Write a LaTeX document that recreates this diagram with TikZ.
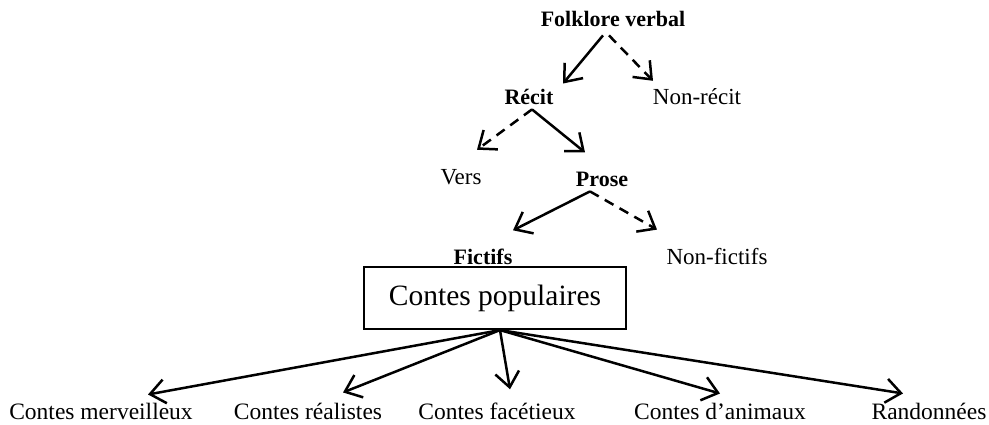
\documentclass[tikz,border=0pt]{standalone}
\usepackage{fontspec}
\setmainfont{Liberation Serif}
\usetikzlibrary{arrows.meta}
\tikzset{
  lab/.style={inner sep=0pt, anchor=base, font=\fontsize{23}{27}\selectfont},
  blab/.style={inner sep=0pt, anchor=base, font=\fontsize{22}{26}\selectfont\bfseries},
  botlab/.style={inner sep=0pt, anchor=base, font=\fontsize{23.5}{27}\selectfont},
  boxnode/.style={draw, line width=2.2pt, minimum width=262pt, minimum height=62pt, inner sep=0pt, font=\fontsize{29.5}{34}\selectfont},
  arr/.style={line width=2.5pt, -{Straight Barb[length=15pt, width=24pt, line width=2.5pt]}},
  darr/.style={arr, dash pattern=on 10pt off 7pt}
}
\begin{document}
\begin{tikzpicture}[x=1pt,y=-1pt]
\useasboundingbox (0,0) rectangle (989,425);
% nodes
\node[blab] (fv) at (613,27) {Folklore verbal};
\node[blab] (recit) at (529,105) {Récit};
\node[lab] (nonrecit) at (697,105) {Non-récit};
\node[lab] (vers) at (461,185) {Vers};
\node[blab] (prose) at (602,187) {Prose};
\node[blab] (fictifs) at (483,265) {Fictifs};
\node[lab] (nonfictifs) at (717,265) {Non-fictifs};
\node[boxnode] (cp) at (495,298) {Contes populaires};
\node[botlab] (cm) at (101,419) {Contes merveilleux};
\node[botlab] (cr) at (308,419) {Contes réalistes};
\node[botlab] (cf) at (497,419) {Contes facétieux};
\node[botlab] (ca) at (720,419) {Contes d’animaux};
\node[botlab] (ra) at (929,419) {Randonnées};
% connector end points, placed relative to the nodes
\coordinate (fvA) at ([xshift=-10pt,yshift=-8pt]fv.south);
\coordinate (fvB) at ([xshift=-4pt,yshift=-8pt]fv.south);
\coordinate (recitN) at ([xshift=34pt,yshift=6pt]recit.north);
\coordinate (nonrecitN) at ([xshift=-44pt,yshift=8pt]nonrecit.north);
\coordinate (recitS) at ([xshift=3pt,yshift=-4pt]recit.south);
\coordinate (versN) at ([xshift=16pt,yshift=20pt]vers.north);
\coordinate (proseN) at ([xshift=-17pt,yshift=20pt]prose.north);
\coordinate (proseS) at ([xshift=-12pt,yshift=-4pt]prose.south);
\coordinate (fictifsN) at ([xshift=30pt,yshift=19pt]fictifs.north);
\coordinate (nonfictifsN) at ([xshift=-60pt,yshift=19pt]nonfictifs.north);
\coordinate (cpS) at ([xshift=5pt]cp.south);
\coordinate (cmN) at ([xshift=47pt,yshift=8pt]cm.north);
\coordinate (crN) at ([xshift=35pt,yshift=10pt]cr.north);
\coordinate (cfN) at ([xshift=13pt,yshift=13pt]cf.north);
\coordinate (caN) at ([xshift=0pt,yshift=9pt]ca.north);
\coordinate (raN) at ([xshift=-26pt,yshift=9pt]ra.north);
% connectors
\draw[arr] (fvA) -- (recitN);
\draw[darr] (fvB) -- (nonrecitN);
\draw[darr] (recitS) -- (versN);
\draw[arr] (recitS) -- (proseN);
\draw[arr] (proseS) -- (fictifsN);
\draw[darr] (proseS) -- (nonfictifsN);
\draw[arr] (cpS) -- (cmN);
\draw[arr] (cpS) -- (crN);
\draw[arr] (cpS) -- (cfN);
\draw[arr] (cpS) -- (caN);
\draw[arr] (cpS) -- (raN);
\end{tikzpicture}
\end{document}
